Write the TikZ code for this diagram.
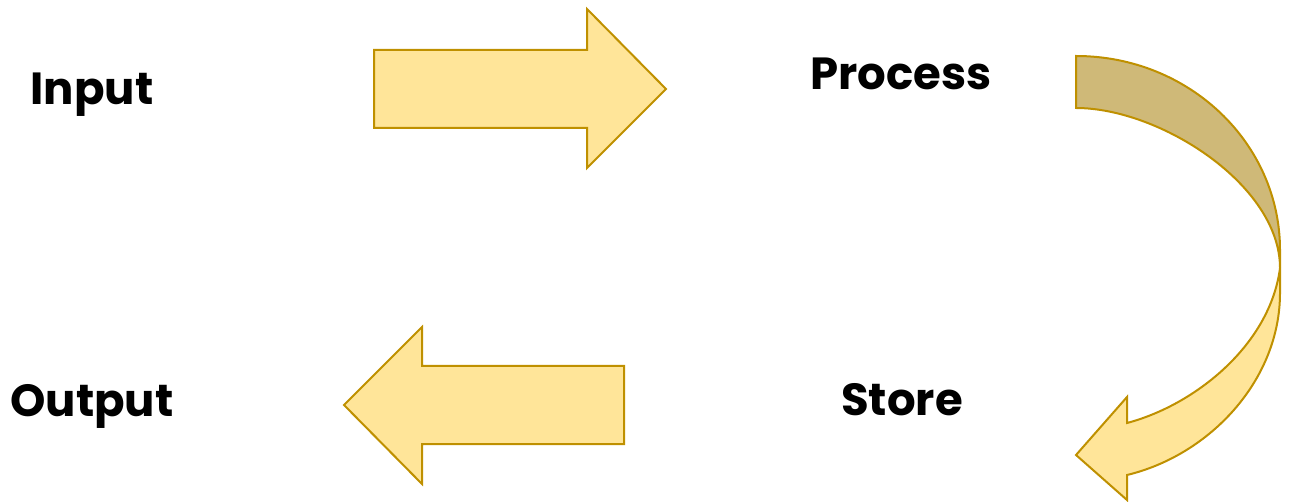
\documentclass[tikz,border=0pt]{standalone}
\usepackage{fontspec}
\setmainfont{Poppins}
\definecolor{afill}{HTML}{FFE599}
\definecolor{aback}{HTML}{CFB978}
\definecolor{aline}{HTML}{BF9000}
\tikzset{
  lbl/.style={font=\fontsize{45}{54}\selectfont\bfseries, inner sep=0pt, anchor=base},
  arr/.style={fill=afill, draw=aline, line width=2pt, line join=miter},
  arrback/.style={fill=aback, draw=aline, line width=2pt, line join=miter}
}
\begin{document}
\begin{tikzpicture}[x=1pt,y=-1pt]
\useasboundingbox (0,0) rectangle (1293,502);
% labels
\node[lbl] (input) at (92,105) {Input};
\node[lbl] (process) at (901,90) {Process};
\node[lbl] (store) at (902,415) {Store};
\node[lbl] (output) at (92,417) {Output};
% right arrow
\draw[arr] (374,50) -- (587,50) -- (587,9) -- (666,89) -- (587,168) -- (587,128) -- (374,128) -- cycle;
% left arrow
\draw[arr] (624,366) -- (422,366) -- (422,327) -- (344,405) -- (422,484) -- (422,444) -- (624,444) -- cycle;
% curved arrow: back part
\draw[arrback] (1076,56) .. controls (1189,56) and (1280,143) .. (1280,250) -- (1280,268)
  .. controls (1280,185) and (1160,108) .. (1076,108) -- cycle;
% curved arrow: front part
\draw[arr] (1280,268) -- (1280,293) .. controls (1280,380) and (1210,455) .. (1127,475)
  -- (1127,500) -- (1076,455) -- (1127,397) -- (1127,423)
  .. controls (1195,405) and (1270,345) .. (1280,268) -- cycle;
\end{tikzpicture}
\end{document}
